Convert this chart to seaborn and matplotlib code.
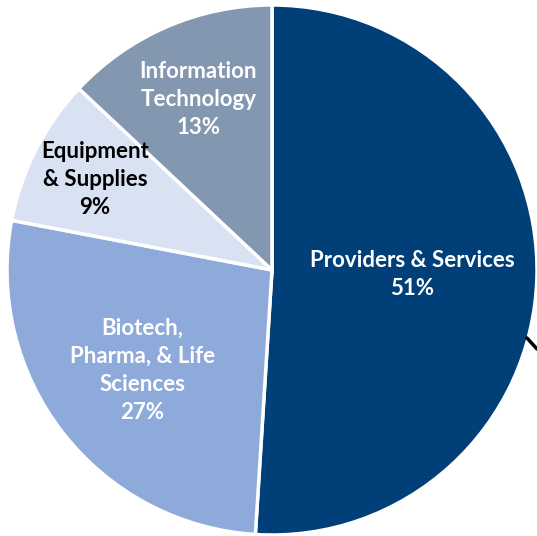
import numpy as np
import matplotlib
matplotlib.use("Agg")
import matplotlib.pyplot as plt
import seaborn as sns

sns.set_theme(style="white")
plt.rcParams['font.family'] = ['Lato', 'DejaVu Sans']

# data
sectors = ["Providers & Services", "Biotech,\nPharma, & Life\nSciences",
           "Equipment\n& Supplies", "Information\nTechnology"]
shares = [51, 27, 9, 13]

colors = ["#003f78", "#8eaadb", "#d9e2f3", "#8497b0"]
text_colors = ["white", "white", "black", "white"]
label_dist = [0.53, 0.62, 0.75, 0.70]

fig = plt.figure(figsize=(5.37, 5.36), dpi=100)
ax = fig.add_axes([0, 0, 1, 1])

wedges, _ = ax.pie(shares, colors=colors, startangle=90, counterclock=False,
                   radius=1.0,
                   wedgeprops=dict(edgecolor="white", linewidth=2.5))

for w, name, pct, tc, d in zip(wedges, sectors, shares, text_colors, label_dist):
    ang = np.deg2rad((w.theta1 + w.theta2) / 2)
    ax.text(d * np.cos(ang), d * np.sin(ang), f"{name}\n{pct}%",
            ha="center", va="center", color=tc, fontsize=16,
            fontweight="bold", linespacing=1.42)

# stub of a leader line cut off at the right edge
ax.plot([527 / 537, 1.0], [1 - 338 / 536, 1 - 349 / 536], color="black",
        linewidth=2.5, transform=ax.transAxes, clip_on=False)

ax.set_xlim(-272 / 265, 265 / 265)
ax.set_ylim(-266 / 265, 270 / 265)
ax.set_aspect("equal")
ax.axis("off")

fig.savefig("out.png", dpi=100, facecolor="white")
